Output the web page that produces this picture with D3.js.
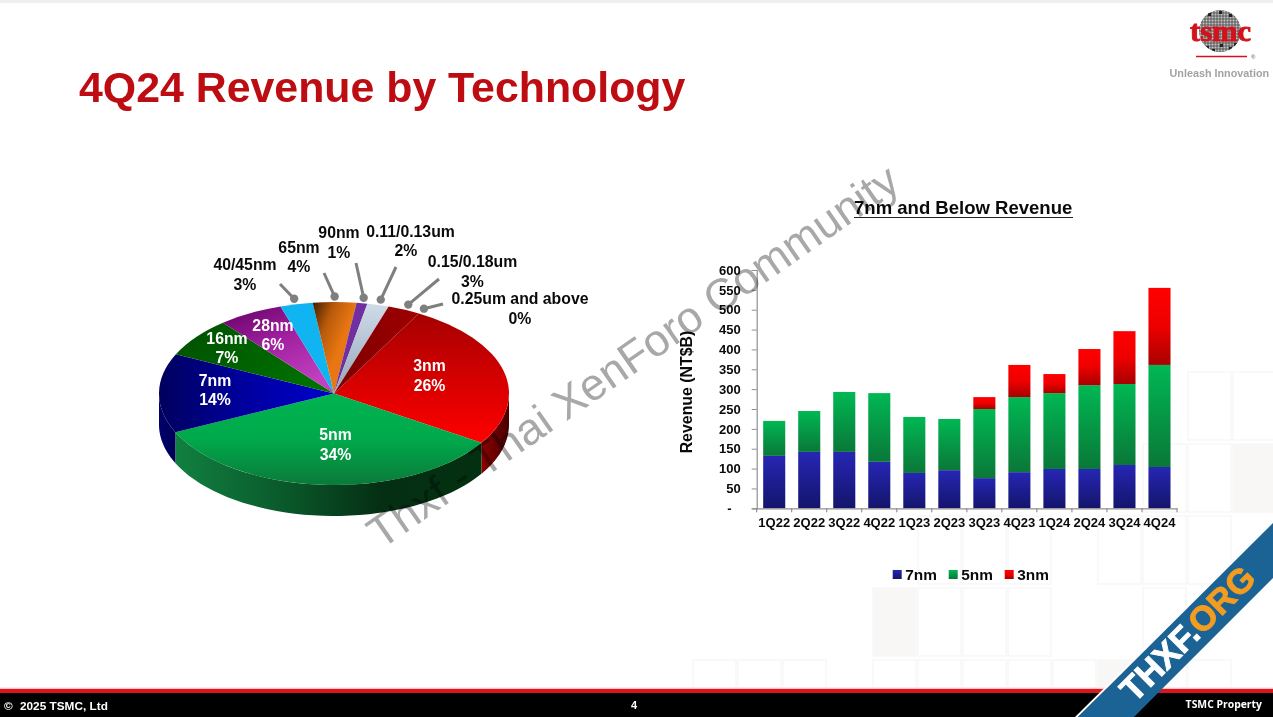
<!DOCTYPE html>
<html>
<head>
<meta charset="utf-8">
<script src="https://cdn.jsdelivr.net/npm/d3@7"></script>
<style>
  body { margin: 0; overflow: hidden; background: #fff; }
  text { font-family: "Liberation Sans", Arial, sans-serif; font-weight: bold; }
</style>
</head>
<body>
<script>
// Pie: technology share of 4Q24 revenue, clockwise
const techNames = ['3nm', '5nm', '7nm', '16nm', '28nm', '40/45nm', '65nm', '90nm', '0.11/0.13um', '0.15/0.18um', '0.25um and above'];
const techShares = [26, 34, 14, 7, 6, 3, 4, 1, 2, 3, 0];

// Bars: revenue per node in NT$B
const quarters = ['1Q22', '2Q22', '3Q22', '4Q22', '1Q23', '2Q23', '3Q23', '4Q23', '1Q24', '2Q24', '3Q24', '4Q24'];
const rev7nm = [132, 142, 142, 117, 89, 96, 76, 91, 99, 99, 109, 104];
const rev5nm = [88, 103, 151, 173, 141, 129, 174, 189, 191, 211, 204, 257];
const rev3nm = [0, 0, 0, 0, 0, 0, 30, 81, 48, 91, 133, 194];
const nodeNames = ['7nm', '5nm', '3nm'];
const yTicks = d3.range(0, 601, 50);

const width = 1273;
const height = 717;

const svg = d3.select('body').append('svg')
  .attr('width', width)
  .attr('height', height)
  .style('display', 'block');
const defs = svg.append('defs');

// helper: add a linear gradient, returns url(...)
function gradient(id, stops, x2 = 0, y2 = 1) {
  const g = defs.append('linearGradient').attr('id', id)
    .attr('x1', 0).attr('y1', 0).attr('x2', x2).attr('y2', y2);
  stops.forEach((c, i) => g.append('stop')
    .attr('offset', i / (stops.length - 1)).attr('stop-color', c));
  return `url(#${id})`;
}

// ---- slide background ----
svg.append('rect').attr('width', width).attr('height', 3).attr('fill', '#efefef');

// faint wafer squares in the lower right: [column, row, filled]
const bgCells = [
  [0, 0, 0], [1, 0, 0], [2, 0, 0], [4, 0, 0], [5, 0, 0], [6, 0, 0], [7, 0, 0], [8, 0, 0], [9, 0, 1], [10, 0, 0], [11, 0, 0],
  [4, 1, 1], [5, 1, 0], [6, 1, 0], [7, 1, 0], [10, 1, 0],
  [5, 2, 0], [6, 2, 0], [7, 2, 0], [9, 2, 0], [10, 2, 0], [11, 2, 0],
  [11, 3, 0], [12, 3, 1], [10, 3, 0],
  [11, 4, 0], [12, 4, 0]
];
svg.append('g').selectAll('rect').data(bgCells).join('rect')
  .attr('x', d => 693 + d[0] * 45)
  .attr('y', d => 660 - d[1] * 72)
  .attr('width', 43)
  .attr('height', d => d[1] === 0 ? 30 : 68)
  .attr('fill', d => d[2] ? '#f8f7f5' : '#fff')
  .attr('stroke', '#f7f7f7')
  .attr('stroke-width', 1.5);

// ---- title ----
svg.append('text').attr('x', 79).attr('y', 101.5)
  .attr('font-size', 42.85).attr('fill', '#bd0d12')
  .text('4Q24 Revenue by Technology');

// ---- pie ----
const pieCx = 334;
const pieCy = 393.5;
const rx = 175;
const ry = 91.5;
const depth = 31;
const rad = Math.PI / 180;

const slices = d3.pie().sort(null)
  .startAngle(29 * rad).endAngle(389 * rad)(techShares);

const faceFill = [
  gradient('f0', ['#a50000', '#d40000', '#ff0000']),
  gradient('f1', ['#00b451', '#00a94b', '#0a7a3a']),
  gradient('f2', ['#00005e', '#0000a0', '#0000cc'], 1, 0),
  gradient('f3', ['#004f00', '#007000'], 1, 0.4),
  gradient('f4', ['#640064', '#a020a0', '#c040c0'], 0.6, 1),
  '#10b4f0',
  gradient('f6', ['#3e1c00', '#b85a0a', '#e87612'], 0.6, 0.5),
  '#7030a0',
  gradient('f8', ['#cfdbe8', '#94a6bc'], 0, 1),
  gradient('f9', ['#7a0000', '#a00000'], 1, 0),
  '#a00000'
];
const wallFill = [
  gradient('w0', ['#8a0000', '#6a0000', '#4a0000'], 1, 0),
  gradient('w1', ['#118040', '#0a5c2c', '#052f14', '#033010'], 1, 0),
  gradient('w2', ['#00006a', '#000058'], 1, 0)
];

function rimPoint(a, r, dy) {
  return [pieCx + r * rx * Math.sin(a), pieCy - r * ry * Math.cos(a) + dy];
}

// side wall: only the part of each slice on the near half of the ellipse
const wallLine = d3.line();
const wallG = svg.append('g');
slices.forEach((s, i) => {
  const a0 = Math.max(s.startAngle, 90 * rad);
  const a1 = Math.min(s.endAngle, 270 * rad);
  if (a1 <= a0 || !wallFill[i]) return;
  const steps = d3.range(0, 41).map(k => a0 + (a1 - a0) * k / 40);
  const pts = steps.map(a => rimPoint(a, 1, 0))
    .concat(steps.slice().reverse().map(a => rimPoint(a, 1, depth)));
  wallG.append('path').attr('d', wallLine(pts) + 'Z').attr('fill', wallFill[i]);
});

// top face, squashed circle
const arc = d3.arc().innerRadius(0).outerRadius(rx);
svg.append('g')
  .attr('transform', `translate(${pieCx},${pieCy}) scale(1,${ry / rx})`)
  .selectAll('path').data(slices).join('path')
  .attr('d', arc)
  .attr('fill', (d, i) => faceFill[i]);

// leader lines for the outside labels, dot sits just off the rim at mid angle
const leaderEnds = {
  '40/45nm': [280, 284], '65nm': [324, 273], '90nm': [356, 263],
  '0.11/0.13um': [396, 267], '0.15/0.18um': [439, 279], '0.25um and above': [443, 304]
};
slices.forEach((s, i) => {
  const end = leaderEnds[techNames[i]];
  if (!end) return;
  const p = rimPoint((s.startAngle + s.endAngle) / 2, 1.06, 0);
  svg.append('line')
    .attr('x1', p[0]).attr('y1', p[1]).attr('x2', end[0]).attr('y2', end[1])
    .attr('stroke', '#7f7f7f').attr('stroke-width', 3);
  svg.append('circle').attr('cx', p[0]).attr('cy', p[1]).attr('r', 4.2).attr('fill', '#7f7f7f');
});

// slice labels: name -> [x of name, x of percent, baseline 1, baseline 2]
const labelPos = {
  '3nm': [429.5, 429.5, 371, 391],
  '5nm': [335.5, 335.5, 440, 460],
  '7nm': [215, 215, 386, 405],
  '16nm': [227, 227, 344, 363],
  '28nm': [273, 273, 331, 350],
  '40/45nm': [245, 245, 270, 290],
  '65nm': [299, 299, 253, 272],
  '90nm': [339, 339, 238, 258],
  '0.11/0.13um': [410.5, 406, 237, 256],
  '0.15/0.18um': [472.5, 472.5, 267, 287],
  '0.25um and above': [520, 520, 304, 324]
};
const insideLabels = ['3nm', '5nm', '7nm', '16nm', '28nm'];
techNames.forEach((name, i) => {
  const p = labelPos[name];
  const color = insideLabels.includes(name) ? '#fff' : '#0a0a0a';
  const lab = svg.append('g').attr('text-anchor', 'middle').attr('font-size', 15.8).attr('fill', color);
  lab.append('text').attr('x', p[0]).attr('y', p[2]).text(name);
  lab.append('text').attr('x', p[1]).attr('y', p[3]).text(techShares[i] + '%');
});

// ---- stacked bars ----
const barLeft = 756.7;
const barRight = 1177;
const barBottom = 508.3;
const barTop = 270;

const x = d3.scaleBand().domain(quarters).range([barLeft, barRight]).paddingInner(0.37).paddingOuter(0.185);
const y = d3.scaleLinear().domain([0, 600]).range([barBottom, barTop]);

const barTable = quarters.map((q, i) => ({ q, '7nm': rev7nm[i], '5nm': rev5nm[i], '3nm': rev3nm[i] }));
const stacked = d3.stack().keys(nodeNames)(barTable);

const barFill = {
  '7nm': gradient('b7', ['#2626b4', '#14146c']),
  '5nm': gradient('b5', ['#00b853', '#0a7738']),
  '3nm': gradient('b3', ['#ff0000', '#ee0000', '#a80000'])
};

svg.append('g').selectAll('g').data(stacked).join('g')
  .attr('fill', d => barFill[d.key])
  .selectAll('rect').data(d => d.filter(v => v[1] > v[0])).join('rect')
  .attr('x', d => x(d.data.q))
  .attr('width', x.bandwidth())
  .attr('y', d => y(d[1]))
  .attr('height', d => y(d[0]) - y(d[1]));

// y axis
const yAxis = svg.append('g')
  .attr('transform', `translate(${barLeft},0)`)
  .call(d3.axisLeft(y).tickValues(yTicks).tickSize(5).tickPadding(11)
    .tickFormat(v => v === 0 ? '-' : v));
yAxis.selectAll('text')
  .attr('font-size', 13).attr('fill', '#0a0a0a')
  .attr('dx', v => v === 0 ? -9 : 0);

// x axis, ticks fall between the bars so the labels get their own pass
const xAxis = svg.append('g')
  .attr('transform', `translate(0,${barBottom})`)
  .call(d3.axisBottom(x).tickSize(0).tickPadding(9));
xAxis.selectAll('text').attr('font-size', 13).attr('fill', '#0a0a0a');
xAxis.selectAll('.between').data(d3.range(0, quarters.length + 1)).join('line')
  .attr('class', 'between')
  .attr('x1', i => barLeft + i * x.step()).attr('x2', i => barLeft + i * x.step())
  .attr('y1', 0).attr('y2', 4)
  .attr('stroke', '#808080');
svg.selectAll('.domain').attr('stroke', '#909090').attr('stroke-width', 1.2);
svg.selectAll('.tick line').attr('stroke', '#909090');

svg.append('text')
  .attr('transform', 'translate(692,392) rotate(-90)')
  .attr('text-anchor', 'middle')
  .attr('font-size', 15.9).attr('fill', '#0a0a0a')
  .text('Revenue (NT$B)');

svg.append('text').attr('x', 854).attr('y', 214)
  .attr('font-size', 18.55).attr('fill', '#0a0a0a')
  .text('7nm and Below Revenue');
svg.append('line').attr('x1', 854).attr('x2', 1073).attr('y1', 217.5).attr('y2', 217.5)
  .attr('stroke', '#222').attr('stroke-width', 1.2);

// legend
const legendX = d3.scalePoint().domain(nodeNames).range([892.7, 1004.7]);
const legend = svg.append('g').selectAll('g').data(nodeNames).join('g')
  .attr('transform', d => `translate(${legendX(d)},570)`);
legend.append('rect').attr('width', 9).attr('height', 9).attr('fill', d => barFill[d]);
legend.append('text').attr('x', 12.5).attr('y', 10)
  .attr('font-size', 15.4).attr('fill', '#0a0a0a').text(d => d);

// ---- logo ----
const logo = svg.append('g');
defs.append('clipPath').attr('id', 'wafer').append('circle')
  .attr('cx', 1220).attr('cy', 31).attr('r', 21);
const wafer = logo.append('g').attr('clip-path', 'url(#wafer)');
wafer.append('circle').attr('cx', 1220).attr('cy', 31).attr('r', 21).attr('fill', '#c4c4c4');
d3.range(1199, 1242, 3).forEach(v => {
  wafer.append('line').attr('x1', v).attr('x2', v).attr('y1', 9).attr('y2', 53).attr('stroke', '#444').attr('stroke-width', 0.8);
});
d3.range(10, 53, 3).forEach(v => {
  wafer.append('line').attr('x1', 1199).attr('x2', 1241).attr('y1', v).attr('y2', v).attr('stroke', '#444').attr('stroke-width', 0.8);
});
const dies = [[1208, 13], [1219, 11], [1229, 14], [1206, 46], [1212, 49], [1220, 44], [1229, 47], [1234, 43]];
wafer.selectAll('.die').data(dies).join('rect').attr('class', 'die')
  .attr('x', d => d[0]).attr('y', d => d[1]).attr('width', 3).attr('height', 3).attr('fill', '#222');
logo.append('text').attr('x', 1190).attr('y', 40.5)
  .attr('textLength', 61).attr('lengthAdjust', 'spacingAndGlyphs')
  .style('font-family', '"Liberation Serif", serif')
  .attr('font-size', 29).attr('fill', '#d3121c')
  .attr('stroke', '#d3121c').attr('stroke-width', 0.9)
  .text('tsmc');
logo.append('line').attr('x1', 1196).attr('x2', 1247).attr('y1', 56.5).attr('y2', 56.5)
  .attr('stroke', '#d3121c').attr('stroke-width', 1.6);
logo.append('text').attr('x', 1251).attr('y', 59).attr('font-size', 6).attr('fill', '#888').text('®');
logo.append('text').attr('x', 1169.5).attr('y', 76.5)
  .attr('font-size', 10.8).attr('fill', '#a3a3a3').text('Unleash Innovation');

// ---- footer ----
const fade = gradient('fade', ['#ffffff', '#f8b0b0'], 0, 1);
svg.append('rect').attr('y', 687).attr('width', width).attr('height', 2).attr('fill', fade);
svg.append('rect').attr('y', 689).attr('width', width).attr('height', 4).attr('fill', '#d8161c');
svg.append('rect').attr('y', 693).attr('width', width).attr('height', 24).attr('fill', '#000');
svg.append('text').attr('x', 4).attr('y', 709.5).attr('font-size', 11.8).attr('fill', '#fff').text('©');
svg.append('text').attr('x', 20).attr('y', 709.5).attr('font-size', 11.8).attr('fill', '#fff').text('2025 TSMC, Ltd');
svg.append('text').attr('x', 634).attr('y', 708.5).attr('text-anchor', 'middle').attr('font-size', 11).attr('fill', '#fff').text('4');
svg.append('text').attr('x', 1262).attr('y', 708).attr('text-anchor', 'end')
  .style('font-family', '"Open Sans", sans-serif')
  .attr('font-size', 10.4).attr('fill', '#fff').text('TSMC Property');

// ---- overlays on the screenshot ----
// multiply so the watermark sinks into the dark pie wall the way it does in the original
svg.append('text')
  .attr('transform', 'translate(381,550) rotate(-34.8)')
  .style('font-weight', 'normal')
  .style('mix-blend-mode', 'multiply')
  .attr('font-size', 44.7).attr('fill', '#a8a8a8')
  .text('Thxf - Thai XenForo Community');

svg.append('path').attr('d', 'M1273,521 L1075,717 L1078,717 L1273,524 Z').attr('fill', '#fff');
svg.append('path').attr('d', 'M1273,523 L1078,717 L1134,717 L1273,578 Z').attr('fill', '#1c6395');
const ribbon = svg.append('text')
  .attr('transform', 'translate(1196,642) rotate(-45)')
  .attr('text-anchor', 'middle')
  .attr('font-size', 34.5)
  .attr('stroke-width', 0.9);
ribbon.append('tspan').attr('fill', '#fff').attr('stroke', '#fff').text('THXF.');
ribbon.append('tspan').attr('fill', '#f39c1f').attr('stroke', '#f39c1f').text('ORG');
</script>
</body>
</html>
